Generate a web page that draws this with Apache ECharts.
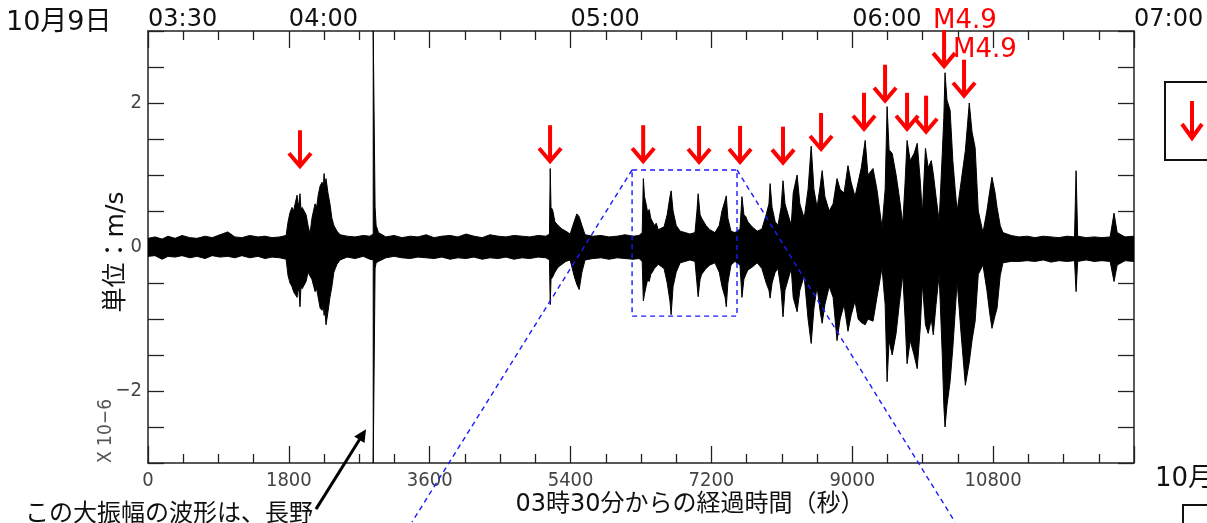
<!DOCTYPE html>
<html><head><meta charset="utf-8">
<script src="https://cdn.jsdelivr.net/npm/echarts@6/dist/echarts.min.js"></script>
<style>html,body{margin:0;padding:0;background:#fff}#c{width:1207px;height:523px}</style>
</head><body><div id="c"></div>
<script>
// ---- waveform envelope (seconds after 03:30, upper / lower amplitude x10^-6 m/s)
const waveT = [0,90,180,255,345,435,535,625,730,820,920,1020,1110,1200,1300,1405,1495,1585,1685,1765,
1790,1815,1840,1860,1880,1905,1918,1930,1942,1955,1970,1995,2020,2045,2070,2095,2135,2155,2175,2200,2225,2240,2250,2262,2275,2300,2325,2350,2375,2415,2455,
2545,2645,2750,2835,2878,2878,2902,2902,2915,2945,3040,3145,3245,3350,3450,3555,3655,3755,3860,3960,4065,4165,4270,4370,4475,4575,4675,4780,4880,4985,5085,
5130,5140,5150,5170,5200,5240,5290,5340,5395,5445,5480,5510,5545,5585,5685,5790,5890,5995,6095,6200,6275,
6315,6330,6345,6365,6385,6405,6425,6445,6470,6495,6520,6545,6595,6635,6670,6685,6710,6750,6800,6865,6925,6990,7015,7030,7055,7075,7095,7130,7180,7245,7300,7335,7375,7390,7410,7450,7500,7565,7590,7615,7640,7665,7720,7785,7845,7900,7935,7950,7975,8015,8050,8090,8115,8140,8180,8220,
8245,8295,8330,8385,8435,8475,8510,8550,8590,8615,8650,8705,8755,8805,8845,8895,8945,8985,9035,9075,9115,9165,9200,9265,9315,9380,9420,9445,9470,9510,9560,9600,9645,9675,9700,9740,9790,9830,9870,9895,9935,9970,10010,10035,10070,10110,10150,10170,10185,10210,10250,10285,10315,10340,10390,10445,10495,10530,10570,10610,10670,10720,10760,10785,10825,10850,10890,10925,
11030,11130,11235,11335,11440,11540,11640,11745,11840,11860,11880,11990,12090,12190,12295,12345,12385,12485,12600];
const waveUp = [.12,.14,.11,.15,.12,.16,.13,.12,.15,.13,.17,.21,.14,.13,.16,.14,.15,.13,.14,.16,
.35,.48,.55,.50,.60,.72,.58,.62,.74,.52,.55,.50,.45,.30,.18,.40,.60,.55,.72,.85,.90,.80,1.02,.85,.95,.75,.60,.40,.30,.22,.17,
.15,.14,.16,.15,.18,3,3,.55,.30,.20,.14,.16,.13,.15,.14,.17,.13,.15,.16,.14,.18,.15,.13,.17,.15,.14,.16,.15,.14,.16,.15,
.18,1.09,.55,.52,.35,.30,.25,.22,.18,.35,.46,.42,.30,.17,.15,.16,.14,.15,.17,.15,.16,
.20,.95,.70,.60,.48,.52,.40,.40,.30,.33,.24,.22,.28,.45,.70,.78,.50,.30,.22,.20,.18,.20,.50,.74,.45,.40,.38,.30,.24,.20,.30,.50,.65,.71,.40,.22,.20,.25,.70,.45,.42,.35,.28,.22,.25,.45,.60,.88,.55,.35,.30,.55,.92,.60,.45,.30,
.75,1.00,.60,.40,.80,1.40,.80,.55,.85,1.06,.70,.50,.60,.95,.80,.75,1.13,.90,.70,.90,1.10,1.48,1.00,1.09,.80,.27,.80,1.95,1.35,1.30,1.00,.70,.32,.90,1.48,1.20,1.30,1.44,.90,.46,1.37,1.10,1.20,1.02,.70,.36,1.30,1.80,2.42,2.04,1.90,1.20,.80,.50,.90,1.34,2.00,1.60,1.38,.50,.20,.50,.80,.97,.75,.55,.30,.20,
.16,.14,.15,.13,.15,.14,.13,.15,.14,1.06,.15,.13,.14,.13,.14,.47,.20,.14,.15];
const waveLo = [-.13,-.12,-.17,-.13,-.14,-.12,-.15,-.13,-.16,-.12,-.14,-.13,-.15,-.12,-.15,-.13,-.16,-.14,-.15,-.17,
-.40,-.50,-.55,-.62,-.60,-.70,-.58,-.62,-.83,-.55,-.58,-.60,-.48,-.35,-.34,-.45,-.62,-.58,-.70,-.85,-.88,-.80,-.95,-.90,-1.08,-.90,-.70,-.55,-.35,-.24,-.18,
-.14,-.16,-.13,-.17,-.18,-3,-3,-.30,-.22,-.20,-.15,-.13,-.15,-.16,-.14,-.15,-.16,-.14,-.17,-.15,-.16,-.14,-.17,-.15,-.16,-.14,-.17,-.15,-.16,-.14,-.15,
-.18,-.80,-.45,-.42,-.35,-.28,-.24,-.20,-.18,-.40,-.52,-.59,-.35,-.18,-.16,-.15,-.17,-.15,-.16,-.17,-.16,
-.20,-.75,-.65,-.55,-.45,-.48,-.38,-.35,-.30,-.28,-.24,-.22,-.30,-.50,-.75,-.94,-.55,-.35,-.22,-.20,-.18,-.20,-.50,-.69,-.45,-.38,-.35,-.30,-.25,-.22,-.35,-.55,-.70,-.83,-.50,-.25,-.20,-.25,-.70,-.45,-.38,-.32,-.28,-.22,-.30,-.50,-.60,-.71,-.50,-.35,-.30,-.60,-.97,-.60,-.45,-.30,
-.70,-.90,-.60,-.40,-1.00,-1.34,-.85,-.55,-.90,-1.06,-.80,-.55,-.70,-1.30,-1.00,-.80,-1.17,-.95,-.75,-1.00,-1.05,-1.08,-1.00,-1.03,-.70,-.29,-.80,-1.87,-1.30,-1.50,-1.20,-.80,-.38,-1.00,-1.62,-1.30,-1.50,-1.69,-1.10,-.50,-1.08,-1.20,-1.00,-1.22,-.80,-.38,-1.50,-2.20,-2.50,-2.20,-1.87,-1.40,-.90,-.48,-1.20,-1.92,-1.60,-1.30,-1.03,-.38,-.25,-.60,-.95,-1.13,-.95,-.85,-.40,-.22,
-.20,-.20,-.19,-.20,-.18,-.21,-.19,-.20,-.19,-.62,-.20,-.18,-.20,-.19,-.20,-.48,-.25,-.19,-.20];

// ---- marked events (red arrows): time, arrow tip amplitude, label
const arrowT   = [1942,5138,6328,7042,7566,8115,8601,9150,9419,9700,9943,10173,10428];
const arrowTip = [1.08,1.15,1.15,1.14,1.14,1.13,1.32,1.60,1.99,1.60,1.56,2.47,2.06];
const arrowLabel = ['','','','','','','','','','','','M4.9','M4.9'];

// ---- axis ticks / labels
const xBottomLabelValues = [0,1800,3600,5400,7200,9000,10800];
const xTopLabelValues = [0,1800,5400,9000,12600];
const xTopLabels = ['03:30','04:00','05:00','06:00','07:00'];
const yLabelValues = [-2,0,2];
const yLabels = ['−2','0','2'];

// ---- zoom frame (time start, time end, top amp, bottom amp) and guide line ends
const zoomFrame = [6186,7527,1.07,-0.96];
const zoomGuideEnds = [3374,10313,-3.82];
// ---- annotation arrow (tail time, tail amp, head time, head amp)
const noteArrow = [2147,-3.64,2786,-2.53];

const latin = "'DejaVu Sans','Noto Sans CJK JP'";
const narrow = "'Liberation Sans Narrow','DejaVu Sans Condensed'";

const chart = echarts.init(document.getElementById('c'), null, {renderer:'canvas'});
const upData = waveT.map((t,i)=>[t,waveUp[i]]);
const loData = waveT.map((t,i)=>[t,waveLo[i]]);

const axisLineStyle = {color:'#222', width:1.5};
const xCommon = {
  type:'value', min:0, max:12600, interval:1800,
  axisLine:{show:true, onZero:false, lineStyle:axisLineStyle},
  axisTick:{show:true, inside:true, length:17, lineStyle:{color:'#222',width:1.3}},
  minorTick:{show:true, splitNumber:4, length:9, lineStyle:{color:'#222',width:1.3}},
  splitLine:{show:false}, minorSplitLine:{show:false}
};
const yCommon = {
  type:'value', min:-3, max:3, interval:0.5,
  axisLine:{show:true, onZero:false, lineStyle:axisLineStyle},
  axisTick:{show:true, inside:true, length:16, lineStyle:{color:'#222',width:1.3}},
  splitLine:{show:false}
};

const option = {
  animation:false,
  backgroundColor:'#fff',
  grid:{left:148, right:73, top:31, bottom:60, containLabel:false},
  xAxis:[
    Object.assign({}, xCommon, {position:'bottom',
      axisLabel:{show:true, margin:8, fontFamily:narrow, fontSize:20, color:'#444',
        formatter:v=> xBottomLabelValues.includes(v)? String(v):''}}),
    Object.assign({}, xCommon, {position:'top',
      axisLabel:{show:true, margin:-1, fontFamily:latin, fontSize:24, color:'#111', align:'left',
        formatter:v=>{const i=xTopLabelValues.indexOf(v); return i>=0? xTopLabels[i]:'';}}})
  ],
  yAxis:[
    Object.assign({}, yCommon, {position:'left',
      axisLabel:{show:true, margin:6, fontFamily:narrow, fontSize:20, color:'#444',
        formatter:v=>{const i=yLabelValues.indexOf(v); return i>=0? yLabels[i]:'';}}}),
    Object.assign({}, yCommon, {position:'right', axisLabel:{show:false}})
  ],
  series:[
    {type:'line', data:upData, symbol:'none', lineStyle:{color:'#000',width:1},
     areaStyle:{color:'#000',opacity:1}, z:2},
    {type:'line', data:loData, symbol:'none', lineStyle:{color:'#000',width:1},
     areaStyle:{color:'#000',opacity:1}, z:2},
    {type:'custom', z:5, clip:false,
     data: arrowT.map((t,i)=>[t,arrowTip[i],i]),
     renderItem:(params,api)=>{
       const p = api.coord([api.value(0), api.value(1)]);
       const lab = arrowLabel[api.value(2)];
       const ch = [
         {type:'line', shape:{x1:p[0],y1:p[1]-39,x2:p[0],y2:p[1]-3}, style:{stroke:'#ff0000',lineWidth:4}},
         {type:'polyline', shape:{points:[[p[0]-11,p[1]-16],[p[0],p[1]-3],[p[0]+11,p[1]-16]]},
          style:{stroke:'#ff0000',lineWidth:4,fill:null,lineJoin:'miter'}}
       ];
       if(lab){
         ch.push({type:'text', x:p[0]-11, y:p[1]-35,
           style:{text:lab, fill:'#ff0000', font:"26px 'DejaVu Sans'", textAlign:'left', textVerticalAlign:'bottom'}});
       }
       return {type:'group', children:ch};
     }},
    {type:'custom', z:6, clip:false, data:[[0]],
     renderItem:(params,api)=>{
       const a = api.coord([zoomFrame[0], zoomFrame[2]]);
       const b = api.coord([zoomFrame[1], zoomFrame[3]]);
       const l = api.coord([zoomGuideEnds[0], zoomGuideEnds[2]]);
       const r = api.coord([zoomGuideEnds[1], zoomGuideEnds[2]]);
       const st = {stroke:'#1a1aff', lineWidth:1.4, lineDash:[5,4], fill:null};
       return {type:'group', children:[
         {type:'rect', shape:{x:a[0],y:a[1],width:b[0]-a[0],height:b[1]-a[1]}, style:st},
         {type:'line', shape:{x1:a[0],y1:a[1],x2:l[0],y2:l[1]}, style:st},
         {type:'line', shape:{x1:b[0],y1:a[1],x2:r[0],y2:r[1]}, style:st}
       ]};
     }},
    {type:'custom', z:6, clip:false, data:[[0]],
     renderItem:(params,api)=>{
       const t = api.coord([noteArrow[0], noteArrow[1]]);
       const h = api.coord([noteArrow[2], noteArrow[3]]);
       const ang = Math.atan2(h[1]-t[1], h[0]-t[0]);
       const L=14, W=0.45;
       const p1=[h[0]-L*Math.cos(ang-W), h[1]-L*Math.sin(ang-W)];
       const p2=[h[0]-L*Math.cos(ang+W), h[1]-L*Math.sin(ang+W)];
       return {type:'group', children:[
         {type:'line', shape:{x1:t[0],y1:t[1],x2:h[0]-8*Math.cos(ang),y2:h[1]-8*Math.sin(ang)}, style:{stroke:'#000',lineWidth:3}},
         {type:'polygon', shape:{points:[h,p1,p2]}, style:{fill:'#000'}}
       ]};
     }}
  ],
  graphic:[
    {type:'text', left:6, top:9, style:{text:'10月9日', font:"27px "+latin, fill:'#111'}},
    {type:'text', x:116, y:252, rotation:Math.PI/2,
     style:{text:'単位：m/s', font:"25px "+latin, fill:'#111', textAlign:'center', textVerticalAlign:'middle'}},
    {type:'text', x:106, y:431, rotation:Math.PI/2,
     style:{text:'X 10−6', font:"19px "+narrow, fill:'#555', textAlign:'center', textVerticalAlign:'middle'}},
    {type:'text', x:690, y:505,
     style:{text:'03時30分からの経過時間（秒）', font:"24px "+latin, fill:'#111', textAlign:'center', textVerticalAlign:'middle'}},
    {type:'text', x:25, y:500,
     style:{text:'この大振幅の波形は、長野', font:"24px 'Noto Sans CJK JP'", fill:'#111', textAlign:'left', textVerticalAlign:'top'}},
    {type:'rect', shape:{x:1165,y:82,width:80,height:78}, style:{stroke:'#111',lineWidth:2,fill:null}},
    {type:'line', shape:{x1:1192,y1:101,x2:1192,y2:137}, style:{stroke:'#ff0000',lineWidth:4}},
    {type:'polyline', shape:{points:[[1182,124],[1192,138],[1202,124]]}, style:{stroke:'#ff0000',lineWidth:4,fill:null}},
    {type:'text', x:1155, y:479, style:{text:'10月', font:"26px "+latin, fill:'#111', textAlign:'left', textVerticalAlign:'middle'}},
    {type:'rect', shape:{x:1183,y:505,width:60,height:40}, style:{stroke:'#111',lineWidth:2,fill:null}}
  ]
};
chart.setOption(option);
</script>
</body></html>
